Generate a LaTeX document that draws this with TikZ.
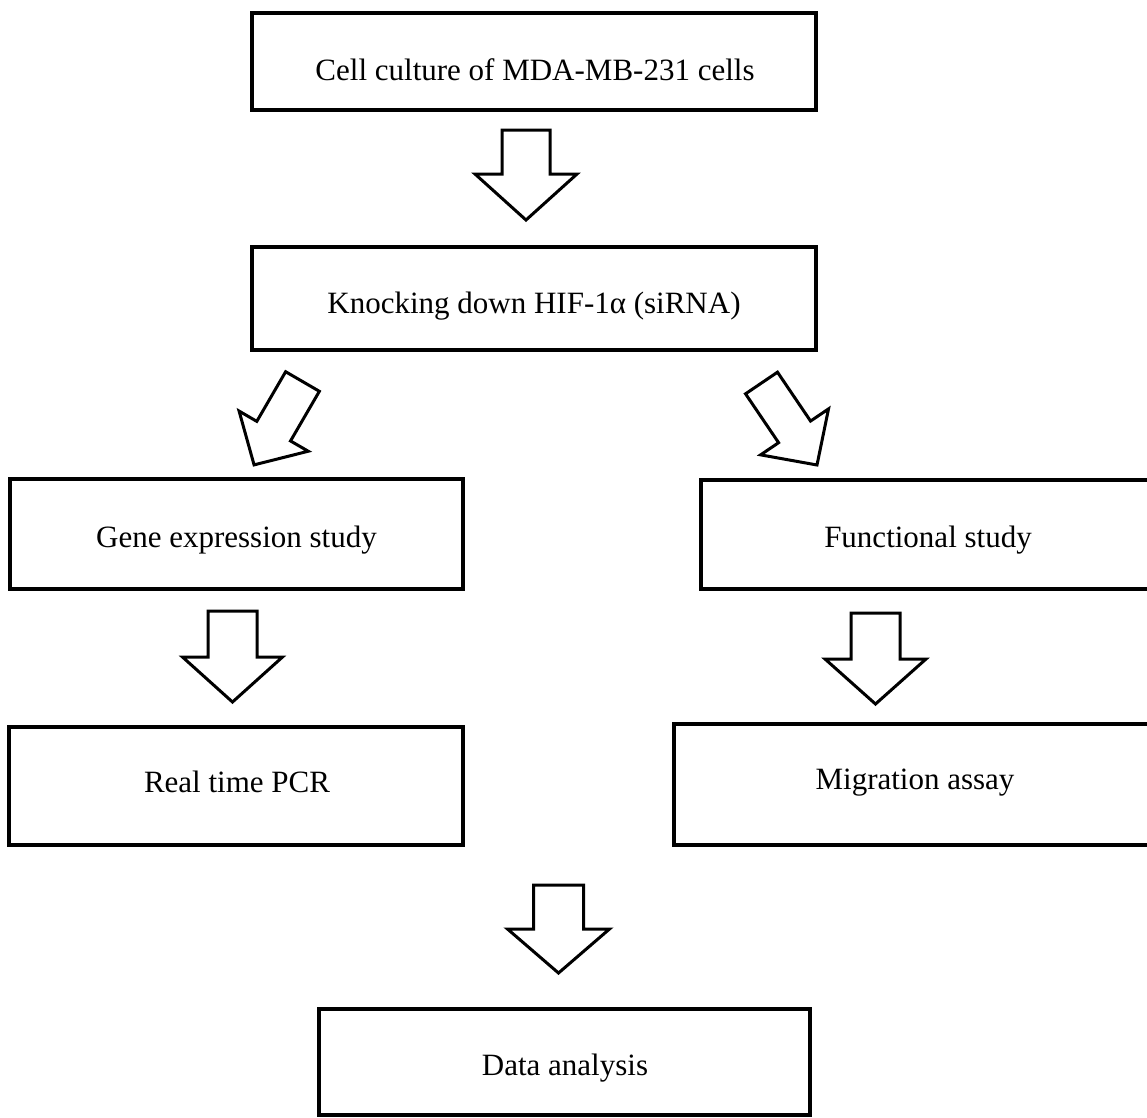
\documentclass[tikz,border=0pt]{standalone}
\usepackage{fontspec}
\setmainfont{Liberation Serif}
\usetikzlibrary{calc}
\tikzset{
  box/.style={draw, line width=3.5pt, inner sep=0pt, fill=white},
  lbl/.style={anchor=base, inner sep=0pt, font=\fontsize{31}{37}\selectfont},
  barrow/.style={draw, line width=3pt, line join=miter, fill=white},
}
% block arrow: from, to, shaft half-width, head half-width, head length
\newcommand\blockarrow[5]{%
  \draw[barrow] let \p1=(#1), \p2=(#2),
    \n1={atan2(\y2-\y1,\x2-\x1)}, \n2={veclen(\x2-\x1,\y2-\y1)} in
    [shift={(\p1)}, rotate=\n1]
    (0,#3) -- ({\n2-#5},#3) -- ({\n2-#5},#4) -- (\n2,0)
    -- ({\n2-#5},-#4) -- ({\n2-#5},-#3) -- (0,-#3) -- cycle;
}
\begin{document}
\begin{tikzpicture}[x=1pt,y=-1pt]
\useasboundingbox (0,0) rectangle (1147,1117);
\clip (0,0) rectangle (1147,1117);
\fill[white] (0,0) rectangle (1147,1117);

% boxes
\node[box, minimum width=564pt, minimum height=97pt]  (b1) at (534,61.5) {};
\node[box, minimum width=564pt, minimum height=103pt] (b2) at (534,298.5) {};
\node[box, minimum width=453pt, minimum height=110pt] (b3) at (236.5,534) {};
\node[box, minimum width=456pt, minimum height=109pt] (b4) at (929,534.5) {};
\node[box, minimum width=454pt, minimum height=118pt] (b5) at (236,786) {};
\node[box, minimum width=483pt, minimum height=121pt] (b6) at (915.5,784.5) {};
\node[box, minimum width=491pt, minimum height=106pt] (b7) at (564.5,1062) {};

% labels
\node[lbl] (t1) at (535,80)    {Cell culture of MDA-MB-231 cells};
\node[lbl] (t2) at (534,313)   {Knocking down HIF-1α (siRNA)};
\node[lbl] (t3) at (236.5,547) {Gene expression study};
\node[lbl] (t4) at (928,547)   {Functional study};
\node[lbl] (t5) at (237,792)   {Real time PCR};
\node[lbl] (t6) at (915,789)   {Migration assay};
\node[lbl] (t7) at (565,1075)  {Data analysis};

% arrow end points
\coordinate (a1s) at (526,130);     \coordinate (a1e) at (526,220);
\coordinate (a2s) at (302.5,381.5); \coordinate (a2e) at (254,465);
\coordinate (a3s) at (761.5,383);   \coordinate (a3e) at (817,465);
\coordinate (a4s) at (232.5,611);   \coordinate (a4e) at (232.5,702);
\coordinate (a5s) at (875.5,613);   \coordinate (a5e) at (875.5,704);
\coordinate (a6s) at (558.5,885);   \coordinate (a6e) at (558.5,973);

\blockarrow{a1s}{a1e}{24}{51}{46}
\blockarrow{a2s}{a2e}{19.5}{40}{39}
\blockarrow{a3s}{a3e}{19.3}{41}{40}
\blockarrow{a4s}{a4e}{24.5}{50}{45}
\blockarrow{a5s}{a5e}{24.5}{50.5}{45}
\blockarrow{a6s}{a6e}{25}{51}{44}
\end{tikzpicture}
\end{document}
